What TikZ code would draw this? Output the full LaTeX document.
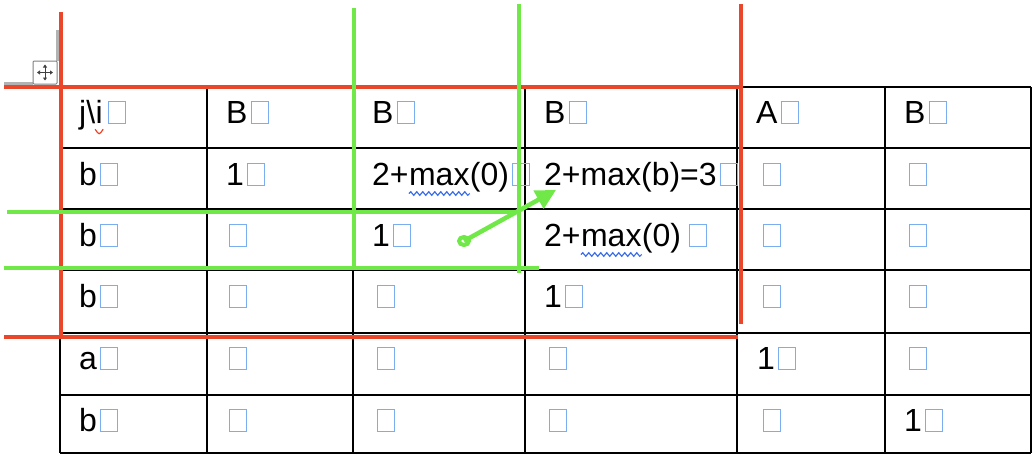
\documentclass[tikz,border=0pt]{standalone}
\usepackage{fontspec}
\setmainfont{Liberation Sans}
\usepackage{tikz}
\usetikzlibrary{arrows.meta, positioning, decorations.pathmorphing}

\definecolor{markred}{RGB}{234,70,42}
\definecolor{markgreen}{RGB}{112,232,72}
\definecolor{cellblue}{RGB}{122,174,240}
\definecolor{wavyblue}{RGB}{58,110,232}
\newcommand{\cellsq}{\hspace{3pt}{\color{cellblue}\setlength\fboxsep{0pt}\setlength\fboxrule{1pt}\fbox{\rule{0pt}{21pt}\rule{16pt}{0pt}}}}

\tikzset{
    celltext/.style={inner sep=0pt, anchor=base west, font=\fontsize{32}{38}\selectfont},
    gridline/.style={black, line width=2.2pt},
    redline/.style={markred, line width=4.5pt},
    greenline/.style={markgreen, line width=4.5pt},
    wavyline/.style={wavyblue, line width=1.2pt, decorate, decoration={snake, segment length=6pt, amplitude=1.8pt}}
}

\begin{document}
\begin{tikzpicture}[x=1pt, y=-1pt]
        \useasboundingbox (0,0) rectangle (1036,458);
        % table grid
        \foreach \gx in {60,207,353,525,737,885,1031}
            \draw[gridline] (\gx,87) -- (\gx,453);
        \foreach \gy in {87,148,209,270,333,395,453}
            \draw[gridline] (60,\gy) -- (1031,\gy);

        % header row
        \node[celltext] (jhead) at (79,123) {j\textbackslash};
        \node[celltext, anchor=base west] (ihead) at (jhead.base east) {i};
        \node[celltext, anchor=base west] (ihsq) at ([xshift=2pt]ihead.base east) {\cellsq};
        \node[celltext] (h2) at (226,123) {B\cellsq};
        \node[celltext] (h3) at (372,123) {B\cellsq};
        \node[celltext] (h4) at (544,123) {B\cellsq};
        \node[celltext] (h5) at (756,123) {A\cellsq};
        \node[celltext] (h6) at (904,123) {B\cellsq};

        % row 1
        \node[celltext] (r1c1) at (79,185) {b\cellsq};
        \node[celltext] (r1c2) at (226,185) {1\cellsq};
        \node[celltext] (r1c3) at (372,185) {2+};
        \node[celltext, anchor=base west] (r1c3m) at (r1c3.base east) {max};
        \node[celltext, anchor=base west] (r1c3e) at (r1c3m.base east) {(0)\cellsq};
        \node[celltext] (r1c4) at (544,185) {2+max(b)=3\cellsq};
        \node[celltext] (r1c5) at (760,185) {\cellsq};
        \node[celltext] (r1c6) at (906,185) {\cellsq};

        % row 2
        \node[celltext] (r2c1) at (79,246) {b\cellsq};
        \node[celltext] (r2c2) at (226,246) {\cellsq};
        \node[celltext] (r2c3) at (372,246) {1\cellsq};
        \node[celltext] (r2c4) at (544,246) {2+};
        \node[celltext, anchor=base west] (r2c4m) at (r2c4.base east) {max};
        \node[celltext, anchor=base west] (r2c4e) at (r2c4m.base east) {(0)\,\cellsq};
        \node[celltext] (r2c5) at (760,246) {\cellsq};
        \node[celltext] (r2c6) at (906,246) {\cellsq};

        % row 3
        \node[celltext] (r3c1) at (79,307) {b\cellsq};
        \node[celltext] (r3c2) at (226,307) {\cellsq};
        \node[celltext] (r3c3) at (374,307) {\cellsq};
        \node[celltext] (r3c4) at (544,307) {1\cellsq};
        \node[celltext] (r3c5) at (760,307) {\cellsq};
        \node[celltext] (r3c6) at (906,307) {\cellsq};

        % row 4
        \node[celltext] (r4c1) at (79,369) {a\cellsq};
        \node[celltext] (r4c2) at (226,369) {\cellsq};
        \node[celltext] (r4c3) at (374,369) {\cellsq};
        \node[celltext] (r4c4) at (546,369) {\cellsq};
        \node[celltext] (r4c5) at (757,369) {1\cellsq};
        \node[celltext] (r4c6) at (906,369) {\cellsq};

        % row 5
        \node[celltext] (r5c1) at (79,431) {b\cellsq};
        \node[celltext] (r5c2) at (226,431) {\cellsq};
        \node[celltext] (r5c3) at (374,431) {\cellsq};
        \node[celltext] (r5c4) at (546,431) {\cellsq};
        \node[celltext] (r5c5) at (760,431) {\cellsq};
        \node[celltext] (r5c6) at (904,431) {1\cellsq};

        % spelling marks
        \draw[wavyline] ([yshift=-8pt]r1c3m.south west) -- ([yshift=-8pt]r1c3m.south east);
        \draw[wavyline] ([yshift=-8pt]r2c4m.south west) -- ([yshift=-8pt]r2c4m.south east);
        \draw[markred, line width=1.2pt] ([xshift=-4pt,yshift=-6pt]ihead.south) .. controls ([yshift=-12pt]ihead.south) .. ([xshift=4pt,yshift=-6pt]ihead.south);

        % table move handle
        \draw[gray!60, line width=3pt] (57,30) -- (57,61);
        \draw[gray!60, line width=3pt] (4,83) -- (33,83);
        \draw[gray, line width=1pt, fill=white, rounded corners=1pt] (33,61) rectangle (57,84);
        \draw[black!75, line width=1pt, {Triangle[length=3pt,width=4pt]}-{Triangle[length=3pt,width=4pt]}] (37,72.5) -- (53,72.5);
        \draw[black!75, line width=1pt, {Triangle[length=3pt,width=4pt]}-{Triangle[length=3pt,width=4pt]}] (45,64.5) -- (45,80.5);

        % red frame
        \draw[redline] (4,87) -- (741,87);
        \draw[redline] (61,12) -- (61,337);
        \draw[redline] (4,337) -- (738,337);
        \draw[redline] (741,4) -- (741,324);

        % green lines
        \draw[greenline] (354,8) -- (354,267);
        \draw[greenline] (519,4) -- (519,273);
        \draw[greenline] (7,212) -- (520,212);
        \draw[greenline] (4,268) -- (539,268);

        % green arrow
        \coordinate (dot) at (464,241);
        \coordinate (tip) at (556,190);
        \draw[markgreen, line width=4pt] (dot) ellipse (5pt and 4pt);
        \draw[markgreen, line width=4.5pt, -{Triangle[length=20pt,width=20pt]}] (dot) -- (tip);
    \end{tikzpicture}
\end{document}
